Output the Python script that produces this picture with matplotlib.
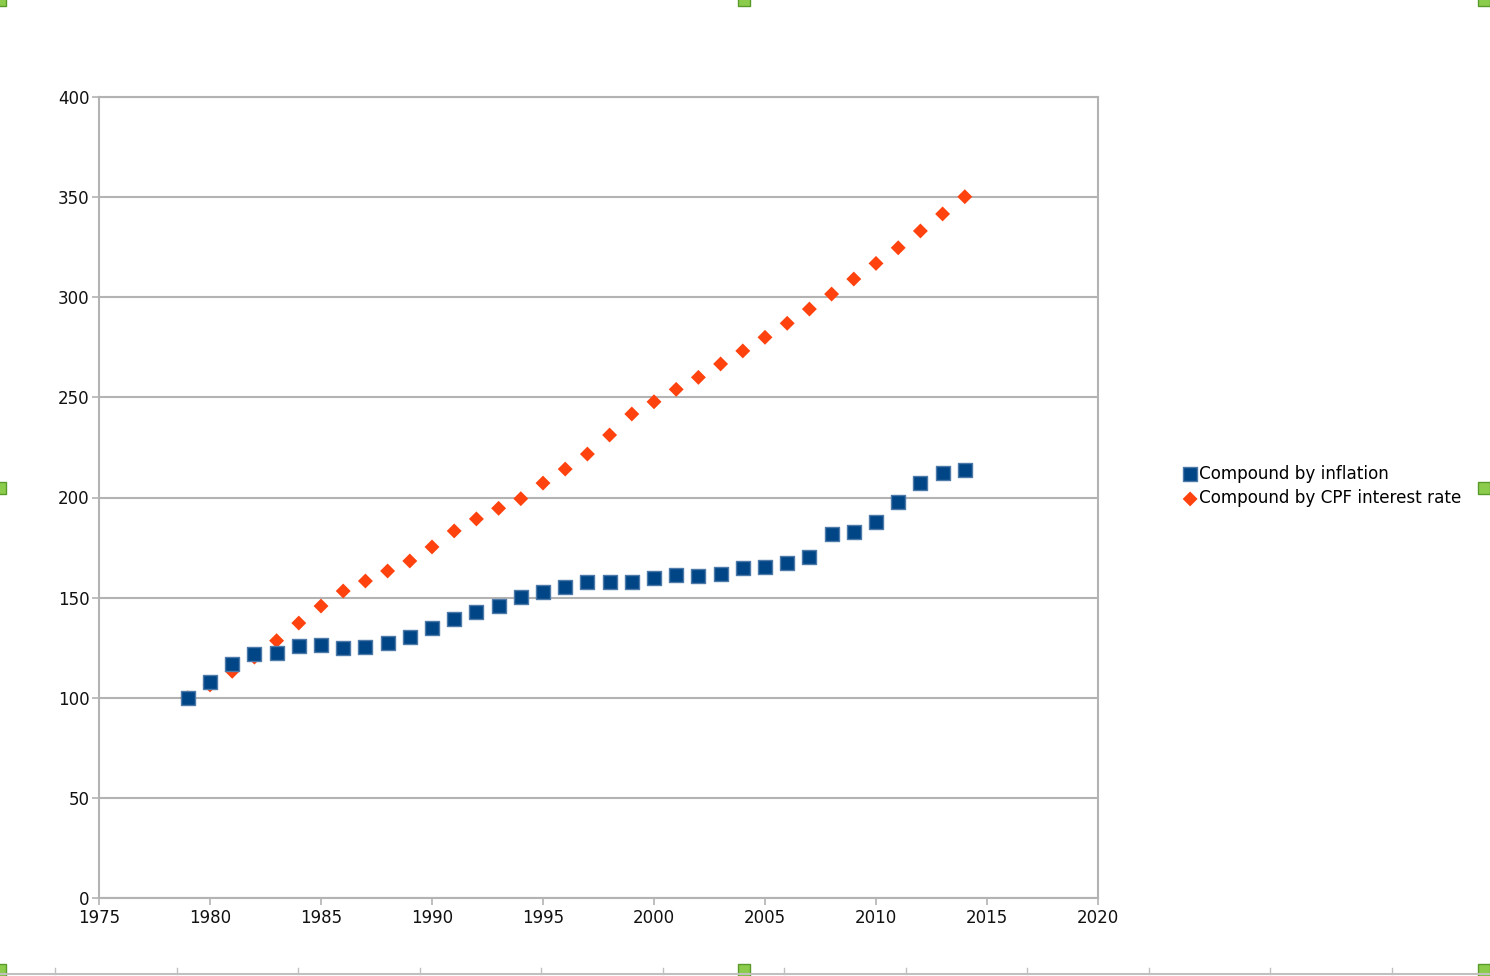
import matplotlib.pyplot as plt
from matplotlib.patches import Rectangle
from matplotlib.lines import Line2D

years = list(range(1979, 2015))

inflation = [
    100.0, 107.9, 116.9, 121.8, 122.3, 125.8, 126.3, 124.8, 125.3, 127.3,
    130.3, 134.8, 139.3, 142.8, 145.8, 150.3, 152.8, 155.3, 157.8, 157.8,
    157.8, 159.8, 161.3, 161.0, 161.8, 164.8, 165.3, 167.3, 170.3, 181.8,
    182.8, 187.8, 197.8, 207.2, 212.2, 213.7,
]

cpf_rate = [
    100.0, 106.4, 113.2, 120.3, 128.5, 137.3, 145.8, 153.3, 158.3, 163.3,
    168.3, 175.3, 183.3, 189.3, 194.6, 199.4, 207.2, 214.2, 221.7, 231.2,
    241.7, 247.8, 254.0, 260.0, 266.7, 273.2, 280.0, 287.0, 294.1, 301.6,
    309.1, 316.9, 324.7, 333.1, 341.6, 350.2,
]

x_ticks = [1975, 1980, 1985, 1990, 1995, 2000, 2005, 2010, 2015, 2020]
y_ticks = [0, 50, 100, 150, 200, 250, 300, 350, 400]

plt.rcParams['font.family'] = ['DejaVu Sans']

W, H = 1490, 976
fig = plt.figure(figsize=(W / 100, H / 100), dpi=100)
ax = fig.add_axes([99 / W, 1 - 898 / H, 999 / W, 801 / H])

grid_col = '#b3b3b3'

ax.scatter(years, cpf_rate, marker='D', s=7.6 ** 2, color='#ff420e',
           edgecolors='none', zorder=3, label='Compound by CPF interest rate')
ax.scatter(years, inflation, marker='s', s=10.5 ** 2, color='#004586',
           edgecolors='#4d7aa8', linewidths=1.0, zorder=4,
           label='Compound by inflation')

ax.set_xlim(1975, 2020)
ax.set_ylim(0, 400)
ax.set_xticks(x_ticks)
ax.set_yticks(y_ticks)

ax.grid(axis='y', color=grid_col, linewidth=1.5)
ax.set_axisbelow(True)
for sp in ax.spines.values():
    sp.set_color(grid_col)
    sp.set_linewidth(1.5)

ax.tick_params(axis='both', colors=grid_col, labelcolor='#111111',
               labelsize=12, width=1.2, length=5)
ax.tick_params(axis='x', pad=3)
ax.tick_params(axis='y', pad=2)

handles, labels = ax.get_legend_handles_labels()
fig.legend(handles[::-1], labels[::-1], loc='center left',
           bbox_to_anchor=(1175 / W, 1 - 486 / H), frameon=False,
           fontsize=12.1, handletextpad=0.05, handlelength=1.0,
           labelspacing=0.4, borderaxespad=0)

# selection handles and ruler from the editor frame
hs = 12
for hx, hy in [(0, 0), (744, 0), (1484, 0), (0, 488), (1484, 488),
               (0, 970), (744, 970), (1484, 970)]:
    fig.patches.append(Rectangle(((hx - hs / 2) / W, 1 - (hy + hs / 2) / H),
                                 hs / W, hs / H, transform=fig.transFigure,
                                 facecolor='#8ccc4c', edgecolor='#5a9a2a',
                                 linewidth=1))
fig.lines.append(Line2D([0, 1], [1 - 974 / H] * 2, transform=fig.transFigure,
                        color='#c0c0c0', linewidth=1.5))
for i in range(13):
    tx = 55 + i * 121.5
    fig.lines.append(Line2D([tx / W] * 2, [1 - 974 / H, 1 - 968 / H],
                            transform=fig.transFigure, color='#c0c0c0',
                            linewidth=1))

fig.savefig('out.png', dpi=100)
